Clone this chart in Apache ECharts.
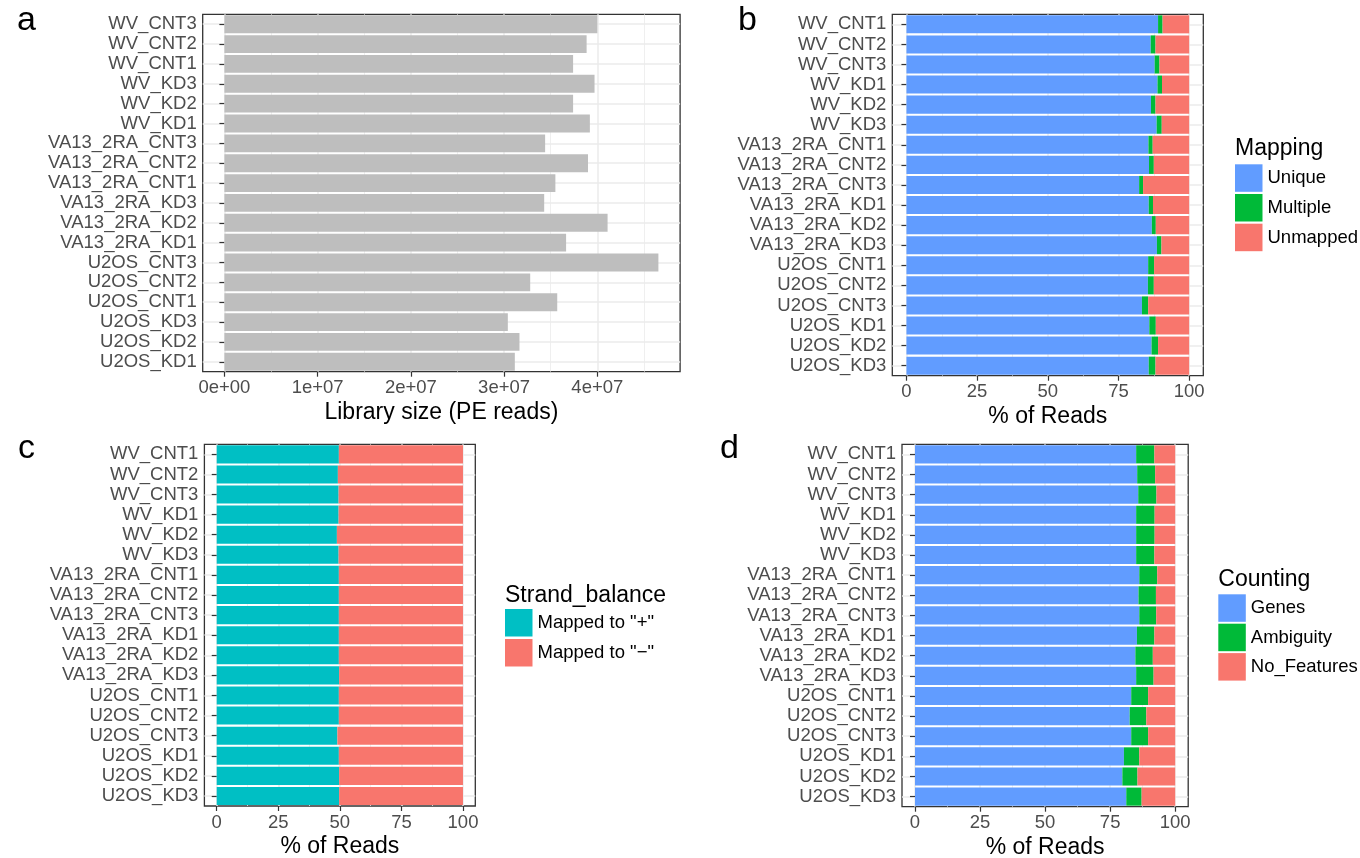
<!DOCTYPE html>
<html>
<head>
<meta charset="utf-8">
<script src="https://cdn.jsdelivr.net/npm/echarts@6/dist/echarts.min.js"></script>
<style>
  html, body { margin: 0; padding: 0; background: #ffffff; }
  #chart { width: 1360px; height: 858px; }
</style>
</head>
<body>
<div id="chart"></div>
<script>
// ---------------- data ----------------
const catsA = ['WV_CNT3','WV_CNT2','WV_CNT1','WV_KD3','WV_KD2','WV_KD1',
  'VA13_2RA_CNT3','VA13_2RA_CNT2','VA13_2RA_CNT1','VA13_2RA_KD3','VA13_2RA_KD2','VA13_2RA_KD1',
  'U2OS_CNT3','U2OS_CNT2','U2OS_CNT1','U2OS_KD3','U2OS_KD2','U2OS_KD1'];
const libSize = [4.00e7, 3.885e7, 3.74e7, 3.97e7, 3.74e7, 3.92e7,
  3.44e7, 3.90e7, 3.55e7, 3.43e7, 4.11e7, 3.665e7,
  4.655e7, 3.28e7, 3.57e7, 3.04e7, 3.165e7, 3.115e7];

const catsBCD = ['WV_CNT1','WV_CNT2','WV_CNT3','WV_KD1','WV_KD2','WV_KD3',
  'VA13_2RA_CNT1','VA13_2RA_CNT2','VA13_2RA_CNT3','VA13_2RA_KD1','VA13_2RA_KD2','VA13_2RA_KD3',
  'U2OS_CNT1','U2OS_CNT2','U2OS_CNT3','U2OS_KD1','U2OS_KD2','U2OS_KD3'];

const mapUnique   = [89.0, 86.4, 87.8, 88.8, 86.5, 88.5, 85.6, 85.8, 82.3, 85.7, 86.8, 88.6, 85.5, 85.4, 83.3, 85.9, 86.7, 85.7];
const mapMultiple = [1.6, 1.7, 1.7, 1.6, 1.6, 1.8, 1.5, 1.7, 1.4, 1.5, 1.4, 1.6, 2.1, 2.1, 2.2, 2.3, 2.3, 2.4];
const mapUnmapped = [9.4, 11.9, 10.5, 9.6, 11.9, 9.7, 12.9, 12.5, 16.3, 12.8, 11.8, 9.8, 12.4, 12.5, 14.5, 11.8, 11.0, 11.9];

const strandPlus  = [49.6, 49.2, 49.5, 49.5, 48.8, 49.5, 49.6, 49.6, 49.6, 49.6, 49.6, 49.7, 49.6, 49.6, 49.0, 49.6, 49.7, 49.7];
const strandMinus = [50.4, 50.8, 50.5, 50.5, 51.2, 50.5, 50.4, 50.4, 50.4, 50.4, 50.4, 50.3, 50.4, 50.4, 51.0, 50.4, 50.3, 50.3];

const cntGenes      = [85.0, 85.4, 85.8, 85.0, 85.0, 85.0, 86.2, 85.9, 86.2, 85.3, 84.7, 85.0, 83.1, 82.5, 83.1, 80.3, 79.7, 81.2];
const cntAmbiguity  = [7.0, 6.9, 7.0, 7.1, 7.1, 7.0, 6.9, 6.7, 6.5, 6.7, 6.7, 6.7, 6.5, 6.4, 6.5, 5.9, 5.8, 5.9];
const cntNoFeatures = [8.0, 7.7, 7.2, 7.9, 7.9, 8.0, 6.9, 7.4, 7.3, 8.0, 8.6, 8.3, 10.4, 11.1, 10.4, 13.8, 14.5, 12.9];

const ticksA = [0, 1e7, 2e7, 3e7, 4e7];
const tickLabelsA = ['0e+00', '1e+07', '2e+07', '3e+07', '4e+07'];
const ticksPct = [0, 25, 50, 75, 100];

// ---------------- styling ----------------
const FONT = "'Liberation Sans', Arial, sans-serif";
const GRID_COL = '#EBEBEB';
const AX_COL = '#333333';
const LBL_COL = '#4D4D4D';
const C_BLUE = '#619CFF', C_GREEN = '#00BA38', C_RED = '#F8766D', C_CYAN = '#00BFC4', C_GREY = '#BEBEBE';

const gridBoxes = [
  {left: 202.7, top: 14.3, width: 477.4, height: 357.4},
  {left: 892.3, top: 14.3, width: 311.0, height: 361.4},
  {left: 204.4, top: 444.3, width: 270.9, height: 361.7},
  {left: 902.0, top: 444.3, width: 286.2, height: 362.4}
];
const grids = gridBoxes.map(g => Object.assign({
  show: true, borderColor: AX_COL, borderWidth: 1.3, backgroundColor: 'transparent',
  containLabel: false, outerBoundsMode: 'none'
}, g));

const maxA = Math.max(...libSize);

function xAxisCfg(gi, min, max, step, ticks, fmt) {
  return {
    type: 'value', gridIndex: gi, min: min, max: max,
    minInterval: step, maxInterval: step,
    axisLine: {show: false},
    axisTick: {show: true, length: 5, lineStyle: {color: AX_COL, width: 1.2}, customValues: ticks},
    axisLabel: {customValues: ticks, formatter: fmt, fontSize: 18.5, color: LBL_COL, margin: 7, fontFamily: FONT},
    splitLine: {show: true, lineStyle: {color: GRID_COL, width: 1.5}},
    minorTick: {show: false, splitNumber: 2},
    minorSplitLine: {show: true, lineStyle: {color: GRID_COL, width: 0.8}},
    name: gi === 0 ? 'Library size (PE reads)' : '% of Reads',
    nameLocation: 'middle', nameGap: 29,
    nameTextStyle: {fontSize: 23, color: '#000000', fontFamily: FONT}
  };
}
function yAxisMain(gi, cats) {
  return {
    type: 'category', gridIndex: gi, data: cats, inverse: true,
    axisLine: {show: false},
    axisTick: {show: true, alignWithLabel: true, length: 5, lineStyle: {color: AX_COL, width: 1.2}},
    axisLabel: {fontSize: 18.5, color: LBL_COL, margin: 6, interval: 0, fontFamily: FONT},
    splitLine: {show: false}
  };
}
function yAxisLines(gi, n) {
  // helper axis: grid lines at category centres (as ggplot draws them)
  return {
    type: 'category', gridIndex: gi, position: 'right', boundaryGap: false,
    data: new Array(2 * n + 1).fill(''),
    axisLine: {show: false}, axisTick: {show: false}, axisLabel: {show: false},
    splitLine: {show: true, interval: (i) => i % 2 === 1, lineStyle: {color: GRID_COL, width: 1.5}}
  };
}

const xAxes = [
  xAxisCfg(0, -0.05 * maxA, 1.05 * maxA, 1e7, ticksA, (v) => tickLabelsA[ticksA.indexOf(v)] ?? ''),
  xAxisCfg(1, -5, 105, 25, ticksPct, (v) => String(v)),
  xAxisCfg(2, -5, 105, 25, ticksPct, (v) => String(v)),
  xAxisCfg(3, -5, 105, 25, ticksPct, (v) => String(v))
];
const yAxes = [
  yAxisMain(0, catsA), yAxisLines(0, catsA.length),
  yAxisMain(1, catsBCD), yAxisLines(1, catsBCD.length),
  yAxisMain(2, catsBCD), yAxisLines(2, catsBCD.length),
  yAxisMain(3, catsBCD), yAxisLines(3, catsBCD.length)
];

function bar(name, gi, data, color, stack) {
  return {
    type: 'bar', name: name, xAxisIndex: gi, yAxisIndex: 2 * gi, data: data,
    stack: stack, barCategoryGap: '10%', itemStyle: {color: color},
    emphasis: {disabled: true}, animation: false
  };
}
const series = [
  bar('Library size', 0, libSize, C_GREY, undefined),
  bar('Unique', 1, mapUnique, C_BLUE, 'map'),
  bar('Multiple', 1, mapMultiple, C_GREEN, 'map'),
  bar('Unmapped', 1, mapUnmapped, C_RED, 'map'),
  bar('Mapped to "+"', 2, strandPlus, C_CYAN, 'strand'),
  bar('Mapped to "\u2212"', 2, strandMinus, C_RED, 'strand'),
  bar('Genes', 3, cntGenes, C_BLUE, 'cnt'),
  bar('Ambiguity', 3, cntAmbiguity, C_GREEN, 'cnt'),
  bar('No_Features', 3, cntNoFeatures, C_RED, 'cnt')
];

function legendCfg(names, left, top, gap) {
  return {
    data: names, orient: 'vertical', left: left, top: top, padding: 0,
    icon: 'rect', itemWidth: 27.5, itemHeight: 27.5, itemGap: gap,
    selectedMode: false,
    textStyle: {fontSize: 18.5, color: '#000000', fontFamily: FONT}
  };
}
const legends = [
  legendCfg(['Unique', 'Multiple', 'Unmapped'], 1235, 164.3, 2.2),
  legendCfg(['Mapped to "+"', 'Mapped to "\u2212"'], 505, 609, 2.5),
  legendCfg(['Genes', 'Ambiguity', 'No_Features'], 1218.3, 594.3, 1.9)
];

function txt(text, left, top, size) {
  return {text: text, left: left, top: top, padding: 0,
    textStyle: {fontSize: size, fontWeight: 'normal', color: '#000000', fontFamily: FONT}};
}
const titles = [
  txt('a', 17, 4, 34), txt('b', 738, 4, 34), txt('c', 18, 432, 34), txt('d', 720, 432, 34),
  txt('Mapping', 1235, 137, 23),
  txt('Strand_balance', 505, 584, 23),
  txt('Counting', 1218.3, 568, 23)
];

const chart = echarts.init(document.getElementById('chart'), null, {renderer: 'canvas'});
chart.setOption({
  backgroundColor: '#ffffff',
  animation: false,
  textStyle: {fontFamily: FONT},
  title: titles,
  legend: legends,
  grid: grids,
  xAxis: xAxes,
  yAxis: yAxes,
  series: series
});
</script>
</body>
</html>
